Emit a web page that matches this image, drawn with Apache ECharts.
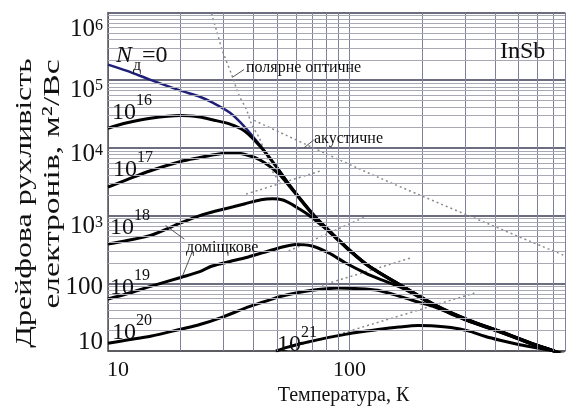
<!DOCTYPE html>
<html>
<head>
<meta charset="utf-8">
<title>Дрейфова рухливість електронів InSb</title>
<script src="https://cdn.jsdelivr.net/npm/echarts@6/dist/echarts.min.js"></script>
<style>
html, body { margin: 0; padding: 0; background: #fff; }
#main { width: 568px; height: 411px; }
</style>
</head>
<body>
<div id="main"></div>
<script>
// значення: [T, K ; рухливість, м2/Вс]
var curveN0 = [[10,170000],[12,137000],[15,101000],[20,70000],[24,57000],[27,47000],[32,33000],[37,20000],[43,10500],[50,5200],[57,2700],[64,1600],[72,970],[85,540],[99,322],[120,182],[164,93],[226,48],[309,29],[422,19.5],[582,12.6],[700,10],[780,8.3]];
var curve16 = [[10,19500],[12,23500],[15,27500],[20,30000],[24,28500],[27,26000],[32,22500],[37,17500],[43,10200],[50,5150],[57,2700],[64,1600],[72,970],[85,540],[99,322],[120,182],[164,93],[226,48],[309,29],[422,19.5],[582,12.6],[700,10],[780,8.3]];
var curve17 = [[10,2630],[12,3400],[15,4600],[20,6300],[24,7200],[28,8000],[32,8400],[37,8000],[43,6500],[51,4100],[57,2600],[64,1560],[72,950],[85,530],[99,318],[120,180],[164,92],[226,47.3],[309,28.6],[422,19.3],[582,12.5],[700,10],[780,8.2]];
var curve18 = [[10,380],[12,430],[15,510],[20,780],[24,1000],[28,1170],[33,1350],[37,1500],[43,1720],[48,1780],[53,1700],[58,1450],[62,1250],[67,1050],[72,860],[78,680],[85,520],[99,312],[120,178],[164,91],[226,47],[309,28.4],[422,19.2],[582,12.4],[700,10],[780,8.2]];
var curve19 = [[10,58.6],[12,70],[15,90],[20,122],[24,149],[27,180],[32,210],[37,238],[44,285],[51,333],[60,375],[70,356],[82,281],[96,201],[117,140],[131,118],[150,98],[164,86],[192,64],[226,46],[309,28.2],[422,19.1],[582,12.35],[700,10],[780,8.1]];
var curve20 = [[10,13],[12,14.5],[15,16.5],[20,21],[24,24.6],[30,32],[37,43],[44,53],[51,63],[60,72],[70,79],[80,83],[90,85],[105,84],[131,79],[164,63],[192,53],[226,44.5],[260,36],[309,27.8],[422,18.9],[582,12.3],[700,10],[780,8.1]];
var curve21 = [[49.6,10],[55,11.3],[62,12.7],[70,14],[82,15.9],[96,17.6],[112,19.2],[131,20.8],[160,22.6],[192,23.8],[225,23.5],[263,22.3],[310,19.8],[363,16.5],[420,14.4],[496,12.6],[600,11.1],[700,10],[780,8.9]];

// штрихові лінії окремих механізмів розсіяння
var polarOptical = [[26.8,970000],[28.1,550000],[29.7,280000],[32.7,114000],[34.9,59000],[37.3,38000],[39.5,21500],[42.3,14000],[45.1,7900],[47.7,4640],[52,3000]];
var acoustic = [[40.3,25500],[131,3700],[780,255]];
var impurity18 = [[37.3,2080],[76.8,4640]];
var impurity19 = [[56,300],[117,968]];
var impurity20 = [[76.8,93.5],[180,238]];
var impurity21 = [[90,17.6],[330,72]];

// виноски
var leaders = [
  [[32.7,110000],[36.6,144000]],
  [[64.7,10000],[71.1,13100]],
  [[17.3,716],[20.7,449]],
  [[22.4,301],[20.4,131]]
];

// сітка
var xMinor = [20,30,40,50,60,70,80,90,200,300,400,500,600,700];
var yDecades = [10,100,1000,10000,100000];
var ySteps = [2,3,4,5,6,7,8,9];

var FONT = 'Liberation Serif';

var gridLines = [];
xMinor.forEach(function (v) {
  gridLines.push({ xAxis: v, lineStyle: { color: '#7d819c', width: 1, type: 'solid' } });
});
yDecades.forEach(function (d) {
  ySteps.forEach(function (s) {
    gridLines.push({ yAxis: d * s, lineStyle: { color: '#a9a9b6', width: 1, type: 'solid' } });
  });
});

// зсув підписів осі y відносно ліній (як на оригіналі)
var yShift = { 1: -18, 2: 8, 3: 22, 4: 14, 5: 20, 6: 34 };

function yLabel(v) {
  var p = Math.round(Math.log10(v));
  var t = p < 3 ? '{b|' + Math.pow(10, p) + '}' : '{b|10}{s|' + p + '}';
  var g = yShift[p];
  if (g > 0) return '{g' + g + '| }\n' + t;
  if (g < 0) return t + '\n{g' + (-g) + '| }';
  return t;
}

var yRich = { b: { fontSize: 25, lineHeight: 24, fontFamily: FONT, color: '#111' },
              s: { fontSize: 16, lineHeight: 14, fontFamily: FONT, color: '#111', verticalAlign: 'top' } };
[8, 14, 18, 20, 22, 34].forEach(function (g) {
  yRich['g' + g] = { fontSize: 1, lineHeight: g };
});

function xLabel(v) {
  var p = Math.log10(v);
  if (Math.abs(p - Math.round(p)) > 1e-6) return '';
  p = Math.round(p);
  return p === 1 ? '{l|10}' : '{c|' + Math.pow(10, p) + '}';
}

function curve(name, data, color, width, z) {
  return { name: name, type: 'line', data: data, showSymbol: false, smooth: 0.3,
           lineStyle: { color: color, width: width }, z: z, animation: false, silent: true };
}
function dotted(name, data) {
  return { name: name, type: 'line', data: data, showSymbol: false, smooth: 0.3,
           lineStyle: { color: '#8a8a8a', width: 1.5, type: [2, 3] }, z: 2, animation: false, silent: true };
}

function txt(x, y, s, size, opt) {
  opt = opt || {};
  return { type: 'text', x: x, y: y, rotation: opt.rot || 0, scaleX: opt.sx || 1, z: 10, silent: true,
           style: { text: s, x: 0, y: 0, fontSize: size, fontFamily: FONT, fontStyle: opt.italic ? 'italic' : 'normal',
                    fill: '#111', align: opt.align || 'left', verticalAlign: 'middle' } };
}
function pow10(x, y, sup) {
  return [txt(x, y, '10', 24), txt(x + 24, y - 12, sup, 16)];
}

var chart = echarts.init(document.getElementById('main'));

var graphics = [
  txt(116, 56, 'N', 24, { italic: true }),
  txt(133, 66, 'д', 16),
  txt(142, 56, '=0', 24),
  txt(500, 52, 'InSb', 24),
  txt(246, 68, 'полярне оптичне', 16),
  txt(314, 139, 'акустичне', 16),
  txt(186, 248, 'доміщкове', 16),
  txt(25, 203, 'Дрейфова рухливість', 24, { rot: Math.PI / 2, sx: 1.33, align: 'center' }),
  txt(53, 184, 'електронів, м²/Вс', 24, { rot: Math.PI / 2, sx: 1.4, align: 'center' })
].concat(pow10(112, 113, '16'), pow10(113, 170, '17'), pow10(110, 228, '18'),
         pow10(110, 288, '19'), pow10(112, 333, '20'), pow10(277, 345, '21'));

chart.setOption({
  animation: false,
  backgroundColor: '#fff',
  grid: { left: 108, top: 12, right: 0, bottom: 54 },
  xAxis: {
    type: 'log', logBase: 10, min: 10, max: 780,
    axisLine: { show: true, lineStyle: { color: '#555', width: 1.5 } },
    axisTick: { show: false },
    splitLine: { show: true, lineStyle: { color: '#7d819c', width: 1 } },
    axisLabel: { formatter: xLabel, margin: 8,
      rich: { l: { fontSize: 22, fontFamily: FONT, color: '#111', padding: [0, 0, 0, 20] },
              c: { fontSize: 22, fontFamily: FONT, color: '#111' } } },
    name: 'Температура, К', nameLocation: 'middle', nameGap: 35,
    nameTextStyle: { fontSize: 20, fontFamily: FONT, color: '#111', padding: [0, 0, 0, 14] }
  },
  yAxis: {
    type: 'log', logBase: 10, min: 10, max: 1000000,
    axisLine: { show: true, lineStyle: { color: '#555', width: 1.5 } },
    axisTick: { show: false },
    splitLine: { show: true, lineStyle: { color: '#6d6d80', width: 2 } },
    axisLabel: { formatter: yLabel, margin: 5, rich: yRich }
  },
  graphic: graphics,
  series: [
    { name: 'grid', type: 'line', data: [[10, 10]], showSymbol: false, z: 1, silent: true,
      lineStyle: { opacity: 0 },
      markLine: { silent: true, symbol: ['none', 'none'], label: { show: false }, animation: false, data: gridLines } },
    { name: 'leaders', type: 'line', data: [[10, 10]], showSymbol: false, z: 2, silent: true,
      lineStyle: { opacity: 0 },
      markLine: { silent: true, symbol: ['none', 'none'], label: { show: false }, animation: false,
        lineStyle: { color: '#555', width: 1, type: 'solid' },
        data: leaders.map(function (l) { return [{ coord: l[0] }, { coord: l[1] }]; }) } },
    dotted('полярне оптичне', polarOptical),
    dotted('акустичне', acoustic),
    dotted('доміщкове 1e18', impurity18),
    dotted('доміщкове 1e19', impurity19),
    dotted('доміщкове 1e20', impurity20),
    dotted('доміщкове 1e21', impurity21),
    curve('Nд=0', curveN0, '#1f1f78', 2.5, 3),
    curve('1e16', curve16, '#000', 3, 4),
    curve('1e17', curve17, '#000', 3, 4),
    curve('1e18', curve18, '#000', 3, 4),
    curve('1e19', curve19, '#000', 3, 4),
    curve('1e20', curve20, '#000', 3, 4),
    curve('1e21', curve21, '#000', 3, 4)
  ]
});
</script>
</body>
</html>
